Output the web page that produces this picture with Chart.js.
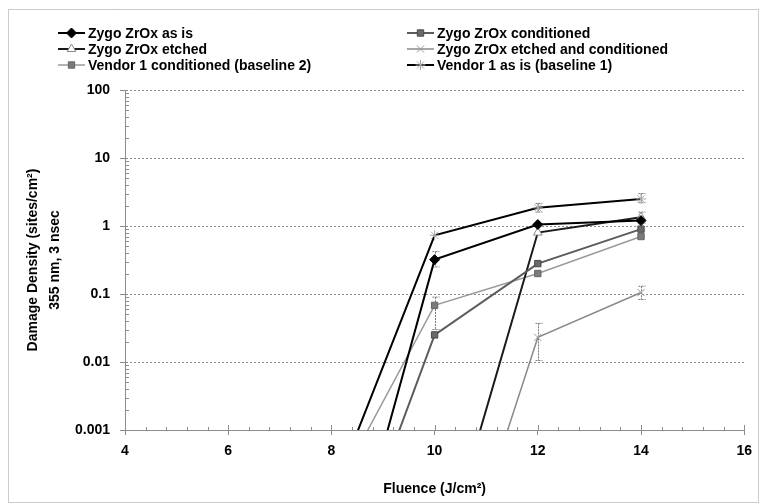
<!DOCTYPE html>
<html>
<head>
<meta charset="utf-8">
<title>Damage density vs fluence</title>
<script src="https://cdn.jsdelivr.net/npm/chart.js@4.4.1/dist/chart.umd.min.js"></script>
<style>
  html, body { margin: 0; padding: 0; background: #fff; }
</style>
</head>
<body>
<canvas id="damageChart" width="760" height="504"></canvas>
<script>
// fluence (J/cm2) and damage density (sites/cm2) per sample
var zygoAsIsX = [8, 10, 12, 14];
var zygoAsIsY = [1e-6, 0.32, 1.05, 1.2];
var zygoAsIsLow = [null, 0.25, null, null];
var zygoAsIsHigh = [null, 0.42, null, null];

var zygoCondX = [8, 10, 12, 14];
var zygoCondY = [2e-6, 0.025, 0.28, 0.9];

var zygoEtchedX = [10, 12, 14];
var zygoEtchedY = [5e-6, 0.8, 1.35];
var zygoEtchedLow = [null, null, 1.1];
var zygoEtchedHigh = [null, null, 1.6];

var zygoEtchCondX = [10, 12, 14];
var zygoEtchCondY = [5e-7, 0.023, 0.105];
var zygoEtchCondLow = [null, 0.0105, 0.083];
var zygoEtchCondHigh = [null, 0.037, 0.13];

var vendorCondX = [8, 10, 12, 14];
var vendorCondY = [1e-4, 0.068, 0.2, 0.7];
var vendorCondLow = [null, 0.03, null, null];
var vendorCondHigh = [null, 0.09, null, null];

var vendorAsIsX = [8, 10, 12, 14];
var vendorAsIsY = [1e-4, 0.73, 1.85, 2.5];
var vendorAsIsLow = [null, null, 1.6, 2.2];
var vendorAsIsHigh = [null, null, 2.15, 3.0];

var seriesNames = [
  'Zygo ZrOx as is',
  'Zygo ZrOx conditioned',
  'Zygo ZrOx etched',
  'Zygo ZrOx etched and conditioned',
  'Vendor 1 conditioned (baseline 2)',
  'Vendor 1 as is (baseline 1)'
];

var yTickValues = [0.001, 0.01, 0.1, 1, 10, 100];
var yTickLabels = ['0.001', '0.01', '0.1', '1', '10', '100'];
var xTickValues = [4, 6, 8, 10, 12, 14, 16];

function points(xs, ys) {
  return xs.map(function (x, i) { return { x: x, y: ys[i] }; });
}

var GRID = '#8c8c8c';
var FONT = '"Liberation Sans", Arial, sans-serif';

Chart.defaults.font.family = FONT;
Chart.defaults.font.size = 14;
Chart.defaults.font.weight = 'bold';
Chart.defaults.color = '#000';

// dotted frame round the whole figure
var frame = {
  id: 'frame',
  beforeDraw: function (chart) {
    var ctx = chart.ctx;
    ctx.save();
    ctx.fillStyle = '#fff';
    ctx.fillRect(0, 0, chart.width, chart.height);
    ctx.strokeStyle = '#999';
    ctx.lineWidth = 1;
    ctx.setLineDash([1, 1]);
    ctx.strokeRect(8.5, 9.5, 750, 493);
    ctx.restore();
  }
};

// minor ticks on both axes
var minorTicks = {
  id: 'minorTicks',
  afterDraw: function (chart) {
    var ctx = chart.ctx, xs = chart.scales.x, ys = chart.scales.y;
    var a = chart.chartArea;
    ctx.save();
    ctx.strokeStyle = GRID;
    ctx.lineWidth = 1;
    ctx.beginPath();
    for (var d = 0.001; d < 100; d *= 10) {
      for (var k = 2; k <= 9; k++) {
        var py = Math.round(ys.getPixelForValue(d * k)) + 0.5;
        ctx.moveTo(a.left, py);
        ctx.lineTo(a.left + 4, py);
      }
    }
    for (var v = 4; v <= 16.001; v += 0.4) {
      var px = Math.round(xs.getPixelForValue(v)) + 0.5;
      var len = Math.abs(v / 2 - Math.round(v / 2)) < 0.01 ? 5 : 3;
      ctx.moveTo(px, a.bottom);
      ctx.lineTo(px, a.bottom - len);
    }
    ctx.stroke();
    ctx.restore();
  }
};

// vertical error bars with small caps
var errorBars = {
  id: 'errorBars',
  beforeDatasetsDraw: function (chart) {
    var ctx = chart.ctx, xs = chart.scales.x, ys = chart.scales.y;
    ctx.save();
    ctx.strokeStyle = '#7a7a7a';
    ctx.lineWidth = 1;
    ctx.setLineDash([2, 1]);
    chart.data.datasets.forEach(function (ds) {
      if (!ds.errLow) return;
      ds.data.forEach(function (pt, i) {
        if (ds.errLow[i] == null) return;
        var px = Math.round(xs.getPixelForValue(pt.x)) + 0.5;
        var top = ys.getPixelForValue(ds.errHigh[i]);
        var bot = ys.getPixelForValue(ds.errLow[i]);
        ctx.beginPath();
        ctx.moveTo(px, top); ctx.lineTo(px, bot);
        ctx.moveTo(px - 3, top); ctx.lineTo(px + 4, top);
        ctx.moveTo(px - 3, bot); ctx.lineTo(px + 4, bot);
        ctx.stroke();
      });
    });
    ctx.restore();
  }
};

// legend in two columns, three rows
var twoColLegend = {
  id: 'twoColLegend',
  afterDraw: function (chart) {
    var ctx = chart.ctx;
    var colX = [58, 407];
    var rowY = [33, 49, 65];
    ctx.save();
    ctx.font = 'bold 14px ' + FONT;
    ctx.textBaseline = 'middle';
    ctx.fillStyle = '#000';
    chart.data.datasets.forEach(function (ds, i) {
      var x = colX[i % 2], y = rowY[Math.floor(i / 2)];
      ctx.strokeStyle = ds.borderColor;
      ctx.lineWidth = ds.borderWidth;
      ctx.setLineDash([]);
      ctx.beginPath();
      ctx.moveTo(x, y); ctx.lineTo(x + 27, y);
      ctx.stroke();
      ctx.fillStyle = ds.pointBackgroundColor;
      ctx.strokeStyle = ds.pointBorderColor;
      ctx.lineWidth = ds.pointBorderWidth;
      Chart.helpers.drawPoint(ctx, {
        pointStyle: ds.pointStyle, radius: ds.pointRadius, rotation: 0,
        borderWidth: ds.pointBorderWidth
      }, x + 13.5, y);
      ctx.fillStyle = '#000';
      ctx.fillText(ds.label, x + 30, y + 1);
    });
    ctx.restore();
  }
};

function series(i, xs, ys, style, low, high) {
  var ds = {
    label: seriesNames[i],
    data: points(xs, ys),
    showLine: true,
    borderColor: style.line,
    borderWidth: style.width,
    pointStyle: style.marker,
    pointRadius: style.radius,
    pointHoverRadius: style.radius,
    pointBackgroundColor: style.fill,
    pointBorderColor: style.edge,
    pointBorderWidth: 1
  };
  if (low) { ds.errLow = low; ds.errHigh = high; }
  return ds;
}

var datasets = [
  series(0, zygoAsIsX, zygoAsIsY, { line: '#000', width: 2, marker: 'rectRot', radius: 5, fill: '#000', edge: '#000' }, zygoAsIsLow, zygoAsIsHigh),
  series(1, zygoCondX, zygoCondY, { line: '#5c5c5c', width: 2, marker: 'rect', radius: 4.5, fill: '#6a6a6a', edge: '#4a4a4a' }),
  series(2, zygoEtchedX, zygoEtchedY, { line: '#1a1a1a', width: 2, marker: 'triangle', radius: 5, fill: '#fff', edge: '#8a8a8a' }, zygoEtchedLow, zygoEtchedHigh),
  series(3, zygoEtchCondX, zygoEtchCondY, { line: '#8a8a8a', width: 1.5, marker: 'crossRot', radius: 5, fill: '#9a9a9a', edge: '#9a9a9a' }, zygoEtchCondLow, zygoEtchCondHigh),
  series(4, vendorCondX, vendorCondY, { line: '#9a9a9a', width: 1.5, marker: 'rect', radius: 4.5, fill: '#7a7a7a', edge: '#666' }, vendorCondLow, vendorCondHigh),
  series(5, vendorAsIsX, vendorAsIsY, { line: '#000', width: 2, marker: 'star', radius: 5, fill: '#aaa', edge: '#aaa' }, vendorAsIsLow, vendorAsIsHigh)
];

new Chart(document.getElementById('damageChart'), {
  type: 'scatter',
  data: { datasets: datasets },
  plugins: [frame, errorBars, minorTicks, twoColLegend],
  options: {
    responsive: false,
    animation: false,
    layout: { padding: { left: 8, right: 11, top: 90, bottom: 0 } },
    plugins: { legend: { display: false }, tooltip: { enabled: false } },
    scales: {
      x: {
        type: 'linear',
        min: 4,
        max: 16,
        afterFit: function (scale) { scale.height = 74; },
        afterBuildTicks: function (scale) {
          scale.ticks = xTickValues.map(function (v) { return { value: v }; });
        },
        ticks: { padding: 8, maxRotation: 0 },
        grid: { drawOnChartArea: false, color: GRID, tickLength: 5 },
        border: { color: GRID, dash: [2, 2] },
        title: {
          display: true,
          text: 'Fluence (J/cm²)',
          font: { size: 14, weight: 'bold' },
          padding: { top: 0, bottom: 6 }
        }
      },
      y: {
        type: 'logarithmic',
        min: 0.001,
        max: 100,
        afterFit: function (scale) { scale.width = 117; },
        afterBuildTicks: function (scale) {
          scale.ticks = yTickValues.map(function (v) { return { value: v }; });
        },
        ticks: {
          padding: 10,
          callback: function (v) {
            var i = yTickValues.indexOf(v);
            return i < 0 ? '' : yTickLabels[i];
          }
        },
        grid: { color: GRID, tickLength: 5 },
        border: { color: GRID, dash: [2, 2] },
        title: {
          display: true,
          text: ['Damage Density (sites/cm²)', '355 nm, 3 nsec'],
          font: { size: 14, weight: 'bold', lineHeight: 1.57 },
          padding: { top: 14, bottom: 0 }
        }
      }
    }
  }
});
</script>
</body>
</html>
